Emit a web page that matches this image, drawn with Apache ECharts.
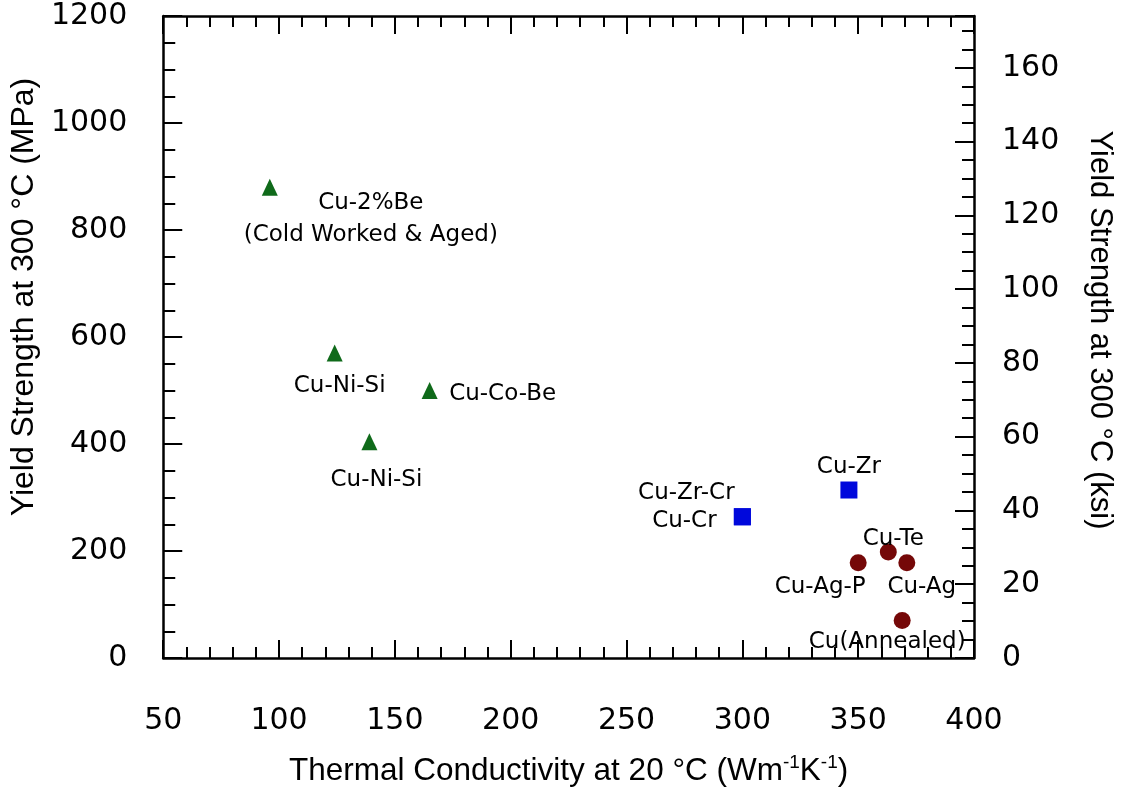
<!DOCTYPE html>
<html><head><meta charset="utf-8">
<script src="https://cdn.jsdelivr.net/npm/echarts@6/dist/echarts.min.js"></script>
<style>html,body{margin:0;padding:0;background:#fff}#c{width:1123px;height:792px}</style>
</head><body><div id="c"></div><script>
// ---- data ----
const triNames = ['Cu-2%Be\n(Cold Worked & Aged)', 'Cu-Ni-Si', 'Cu-Co-Be', 'Cu-Ni-Si'];
const triConductivity = [96, 124, 165, 139];
const triStrength = [880, 570, 500, 404];

const sqNames = ['Cu-Zr-Cr', 'Cu-Cr', 'Cu-Zr'];
const sqConductivity = [300, 300, 346];
const sqStrength = [264, 264, 314];

const circNames = ['Cu-Ag-P', 'Cu-Te', 'Cu-Ag', 'Cu(Annealed)'];
const circConductivity = [350, 363, 371, 369];
const circStrength = [178, 198, 178, 70];

const xTicks = [50, 100, 150, 200, 250, 300, 350, 400];
const mpaTicks = [0, 200, 400, 600, 800, 1000, 1200];
const ksiTicks = [0, 20, 40, 60, 80, 100, 120, 140, 160];
const MPA_PER_KSI = 6.894757;

// ---- label layout (offsets in px) ----
const triOffsets = [[101, 32], [5, 33], [73, 4], [7, 38]];
const sqOffsets = [[-56, -24], [-58, 4], [0, -23]];
const circOffsets = [[-38, 24], [5, -13], [15, 24], [-15, 21]];

const labelFont = 'DejaVu Sans';
const tickFont = 'DejaVu Sans';
const titleFont = 'Liberation Sans';

function build(names, xs, ys, offs) {
  return names.map((n, i) => ({
    value: [xs[i], ys[i]],
    name: n,
    label: {
      show: true, formatter: n, position: 'inside', offset: offs[i],
      align: 'center', verticalAlign: 'middle',
      color: '#000', fontSize: 23, fontFamily: labelFont, lineHeight: 32
    }
  }));
}

const tickLine = { color: '#000', width: 2 };
const axisLine = { show: true, onZero: false, lineStyle: { color: '#000', width: 2.5 } };
const plain = v => String(v);

const chart = echarts.init(document.getElementById('c'), null, { renderer: 'canvas' });
chart.setOption({
  animation: false,
  backgroundColor: '#fff',
  grid: { left: 157.5, right: 145, top: 16, bottom: 132 },
  xAxis: [
    {
      type: 'value', min: xTicks[0], max: xTicks[xTicks.length - 1], interval: xTicks[1] - xTicks[0],
      position: 'bottom', axisLine: axisLine,
      axisTick: { show: true, inside: true, length: 18, lineStyle: tickLine },
      minorTick: { show: true, splitNumber: 5, length: 11, lineStyle: tickLine },
      splitLine: { show: false },
      axisLabel: { margin: 48, fontFamily: tickFont, fontSize: 30, color: '#000', formatter: plain },
      name: 'Thermal Conductivity at 20 °C (Wm{sup|-1}K{sup|-1})',
      nameLocation: 'middle', nameGap: 95,
      nameTextStyle: {
        fontSize: 31.5, fontFamily: titleFont, color: '#000',
        rich: { sup: { fontSize: 19, fontFamily: titleFont, color: '#000', padding: [0, 0, 17, 0] } }
      }
    },
    {
      type: 'value', min: xTicks[0], max: xTicks[xTicks.length - 1], interval: xTicks[1] - xTicks[0],
      position: 'top', axisLine: axisLine,
      axisTick: { show: true, inside: true, length: 18, lineStyle: tickLine },
      minorTick: { show: true, splitNumber: 5, length: 11, lineStyle: tickLine },
      splitLine: { show: false }, axisLabel: { show: false }
    }
  ],
  yAxis: [
    {
      type: 'value', min: mpaTicks[0], max: mpaTicks[mpaTicks.length - 1], interval: mpaTicks[1] - mpaTicks[0],
      position: 'left', axisLine: axisLine,
      axisTick: { show: true, inside: true, length: 19, lineStyle: tickLine },
      minorTick: { show: true, splitNumber: 4, length: 12, lineStyle: tickLine },
      splitLine: { show: false },
      axisLabel: { margin: 36, fontFamily: tickFont, fontSize: 30, color: '#000', formatter: plain },
      name: 'Yield Strength at 300 °C (MPa)',
      nameLocation: 'middle', nameGap: 113,
      nameTextStyle: { fontSize: 32, fontFamily: titleFont, color: '#000', padding: [0, 0, 0, 80] }
    },
    {
      type: 'value', min: 0, max: mpaTicks[mpaTicks.length - 1] / MPA_PER_KSI, interval: ksiTicks[1] - ksiTicks[0],
      position: 'right', axisLine: axisLine,
      axisTick: { show: true, inside: true, length: 19, lineStyle: tickLine },
      minorTick: { show: true, splitNumber: 4, length: 12, lineStyle: tickLine },
      splitLine: { show: false },
      axisLabel: { margin: 28, fontFamily: tickFont, fontSize: 30, color: '#000', showMaxLabel: false,
        formatter: v => (ksiTicks.indexOf(v) >= 0 ? String(v) : '') },
      name: 'Yield Strength at 300 °C (ksi)',
      nameLocation: 'middle', nameGap: 110, nameRotate: -90,
      nameTextStyle: { fontSize: 31, fontFamily: titleFont, color: '#000', padding: [0, 14, 0, 0] }
    }
  ],
  series: [
    { type: 'scatter', xAxisIndex: 0, yAxisIndex: 0, symbol: 'triangle', symbolSize: [16, 17],
      itemStyle: { color: '#0f6a1a', opacity: 1 }, data: build(triNames, triConductivity, triStrength, triOffsets), z: 3 },
    { type: 'scatter', xAxisIndex: 0, yAxisIndex: 0, symbol: 'rect', symbolSize: 17,
      itemStyle: { color: '#0008dc', opacity: 1 }, data: build(sqNames, sqConductivity, sqStrength, sqOffsets), z: 3 },
    { type: 'scatter', xAxisIndex: 0, yAxisIndex: 0, symbol: 'circle', symbolSize: 17,
      itemStyle: { color: '#750808', opacity: 1 }, data: build(circNames, circConductivity, circStrength, circOffsets), z: 3 }
  ]
});
</script></body></html>
